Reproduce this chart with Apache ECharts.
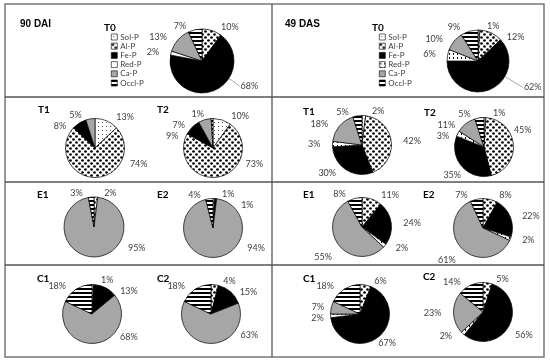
<!DOCTYPE html>
<html><head><meta charset="utf-8">
<script src="https://cdn.jsdelivr.net/npm/echarts@6/dist/echarts.min.js"></script>
<style>html,body{margin:0;padding:0;background:#fff}#c{width:550px;height:362px}</style>
</head><body><div id="c"></div>
<script>
const components = ['Sol-P','Al-P','Fe-P','Red-P','Ca-P','Occl-P'];
const panelHeaders = ['90 DAI','49 DAS'];
const pieTitles = ['T0','T1','T2','E1','E2','C1','C2'];
// values (%) in order Sol-P, Al-P, Fe-P, Red-P, Ca-P, Occl-P
const dai_T0 = [0,10,68,2,13,7];
const dai_T1 = [13,74,8,0,5,0];
const dai_T2 = [10,73,9,0,7,1];
const dai_E1 = [0,2,0,0,95,3];
const dai_E2 = [0,1,1,0,94,4];
const dai_C1 = [0,1,13,0,68,18];
const dai_C2 = [0,4,15,0,63,18];
const das_T0 = [1,12,62,6,10,9];
const das_T1 = [2,42,30,3,18,5];
const das_T2 = [1,45,35,3,11,5];
const das_E1 = [0,11,24,2,55,8];
const das_E2 = [0,8,22,2,61,7];
const das_C1 = [0,6,67,2,7,18];
const das_C2 = [0,5,56,2,23,14];

function pat(draw, w, h){
  const c=document.createElement('canvas'); c.width=w; c.height=h;
  const g=c.getContext('2d'); g.fillStyle='#fff'; g.fillRect(0,0,w,h); draw(g);
  return {image:c, repeat:'repeat'};
}
const solP = pat(g=>{g.fillStyle='#555'; g.fillRect(2,2,1,1);},4,4);
const alP = pat(g=>{g.fillStyle='#000';
  [[1.5,1.5],[4.5,4.5]].forEach(p=>{g.beginPath(); g.arc(p[0],p[1],1.35,0,Math.PI*2); g.fill();});},6,6);
const occlP = pat(g=>{g.fillStyle='#000'; g.fillRect(0,0,4,2);},4,4);
const redP2 = pat(g=>{g.fillStyle='#000'; g.fillRect(1,1,1,2);},4,4);
const palDAI = [solP, alP, '#000000', '#ffffff', '#a6a6a6', occlP];
const palDAS = [solP, alP, '#000000', redP2, '#a6a6a6', occlP];

// label placement overrides (Excel "best fit"): [angle clockwise from 12 o'clock, gap beyond radius, leader line]
const labelPlace = {
  dai_T0:{'Fe-P':[123,14,1]}, dai_T1:{'Al-P':[115,9]}, dai_T2:{'Al-P':[117,7]},
  dai_E1:{'Ca-P':[122,10]}, dai_E2:{'Ca-P':[120,10]},
  dai_C1:{'Ca-P':[130,7]}, dai_C2:{'Ca-P':[126,7]},
  das_T0:{'Fe-P':[120,22,1]}, das_T2:{'Al-P':[60,5],'Fe-P':[219,7]},
  das_E1:{'Ca-P':[225,13]}, das_E2:{'Ca-P':[220,13]},
  das_C1:{'Fe-P':[148,5]}, das_C2:{'Fe-P':[126,10]}
};

function pie(key, vals, cx, cy, r, pal){
  const over = labelPlace[key] || {};
  const data = components.map((n,i)=>{
    const d = {name:n, value:vals[i], itemStyle:{color:pal[i]}};
    if(over[n] && over[n][2]) d.labelLine = {show:true};
    return d;
  }).filter(d=>d.value>0);
  return {type:'pie', center:[cx,cy], radius:r, startAngle:90, clockwise:true,
    animation:false, silent:true, data:data,
    itemStyle:{borderColor:'#000', borderWidth:0.7},
    label:{show:true, position:'outside', formatter:'{c}%', fontSize:9, color:'#404040', fontFamily:'Lato', overflow:'none'},
    labelLine:{show:false, length:4, length2:3, lineStyle:{color:'#808080', width:0.7}},
    labelLayout:function(p){
      const nm = data[p.dataIndex].name;
      if(!over[nm]) return {};
      const a = over[nm][0]*Math.PI/180, d = r + over[nm][1];
      const sx = Math.sin(a), cy2 = Math.cos(a);
      const x = cx + d*sx, y = cy - d*cy2;
      const res = {x:x, y:y, align: sx>=0 ? 'left' : 'right', verticalAlign:'middle'};
      if(over[nm][2]){
        res.labelLinePoints = [[cx + r*sx, cy - r*cy2], [cx + (r+4)*sx, cy - (r+4)*cy2], [x + (sx>=0?-1:1), y]];
      }
      return res;
    },
    emphasis:{disabled:true}};
}

const series = [
  pie('dai_T0', dai_T0, 202, 61, 32, palDAI),
  pie('dai_T1', dai_T1, 95, 148, 29.5, palDAI),
  pie('dai_T2', dai_T2, 213, 148, 29.5, palDAI),
  pie('dai_E1', dai_E1, 94, 227, 30, palDAI),
  pie('dai_E2', dai_E2, 213, 228, 29.5, palDAI),
  pie('dai_C1', dai_C1, 92, 314, 29.5, palDAI),
  pie('dai_C2', dai_C2, 211, 314, 29.5, palDAI),
  pie('das_T0', das_T0, 478, 61, 31, palDAS),
  pie('das_T1', das_T1, 362, 145, 29.5, palDAS),
  pie('das_T2', das_T2, 484, 147, 29.5, palDAS),
  pie('das_E1', das_E1, 362, 227, 29.5, palDAS),
  pie('das_E2', das_E2, 483, 228, 29.5, palDAS),
  pie('das_C1', das_C1, 360, 314, 29.5, palDAS),
  pie('das_C2', das_C2, 483, 312, 29.5, palDAS)
];

const titlePos = [
  [104,23],[38,105],[157,105],[37,190],[157,190],[37,274],[157,274],
  [372,23],[303,107],[424,108],[303,190],[423,190],[303,274],[423,272]
];
const titleTexts = pieTitles.concat(pieTitles);
const titles = titleTexts.map((t,i)=>({text:t, left:titlePos[i][0], top:titlePos[i][1], padding:0,
  textStyle:{fontSize:10, fontWeight:'bold', color:'#000', fontFamily:'Lato'}}));
titles.push({text:panelHeaders[0], left:20, top:19, padding:0, textStyle:{fontSize:10, fontWeight:'bold', color:'#000', fontFamily:'Liberation Sans'}});
titles.push({text:panelHeaders[1], left:285, top:19, padding:0, textStyle:{fontSize:10, fontWeight:'bold', color:'#000', fontFamily:'Liberation Sans'}});

function legend(left, pal){
  return {orient:'vertical', left:left, top:33, padding:0, itemWidth:6, itemHeight:6, itemGap:1.2,
    selectedMode:false, icon:'rect',
    textStyle:{fontSize:8, color:'#404040', fontFamily:'Lato', padding:[0,0,0,-2]},
    data: components.map((n,i)=>({name:n, itemStyle:{color:pal[i], borderColor:'#000', borderWidth:0.6}}))};
}

const lineStyle = {stroke:'#555', lineWidth:1.3};
const graphic = [
  {type:'rect', shape:{x:5, y:4, width:539, height:353}, style:{fill:'none', stroke:'#777', lineWidth:1.5}},
  {type:'line', shape:{x1:272, y1:4, x2:272, y2:357}, style:lineStyle},
  {type:'line', shape:{x1:5, y1:97, x2:544, y2:97}, style:lineStyle},
  {type:'line', shape:{x1:5, y1:182, x2:544, y2:182}, style:lineStyle},
  {type:'line', shape:{x1:5, y1:265, x2:544, y2:265}, style:lineStyle}
];

const chart = echarts.init(document.getElementById('c'), null, {renderer:'canvas'});
chart.setOption({
  animation:false,
  backgroundColor:'#fff',
  title: titles,
  legend: [legend(111, palDAI), legend(379, palDAS)],
  graphic: graphic,
  series: series
});
</script></body></html>
